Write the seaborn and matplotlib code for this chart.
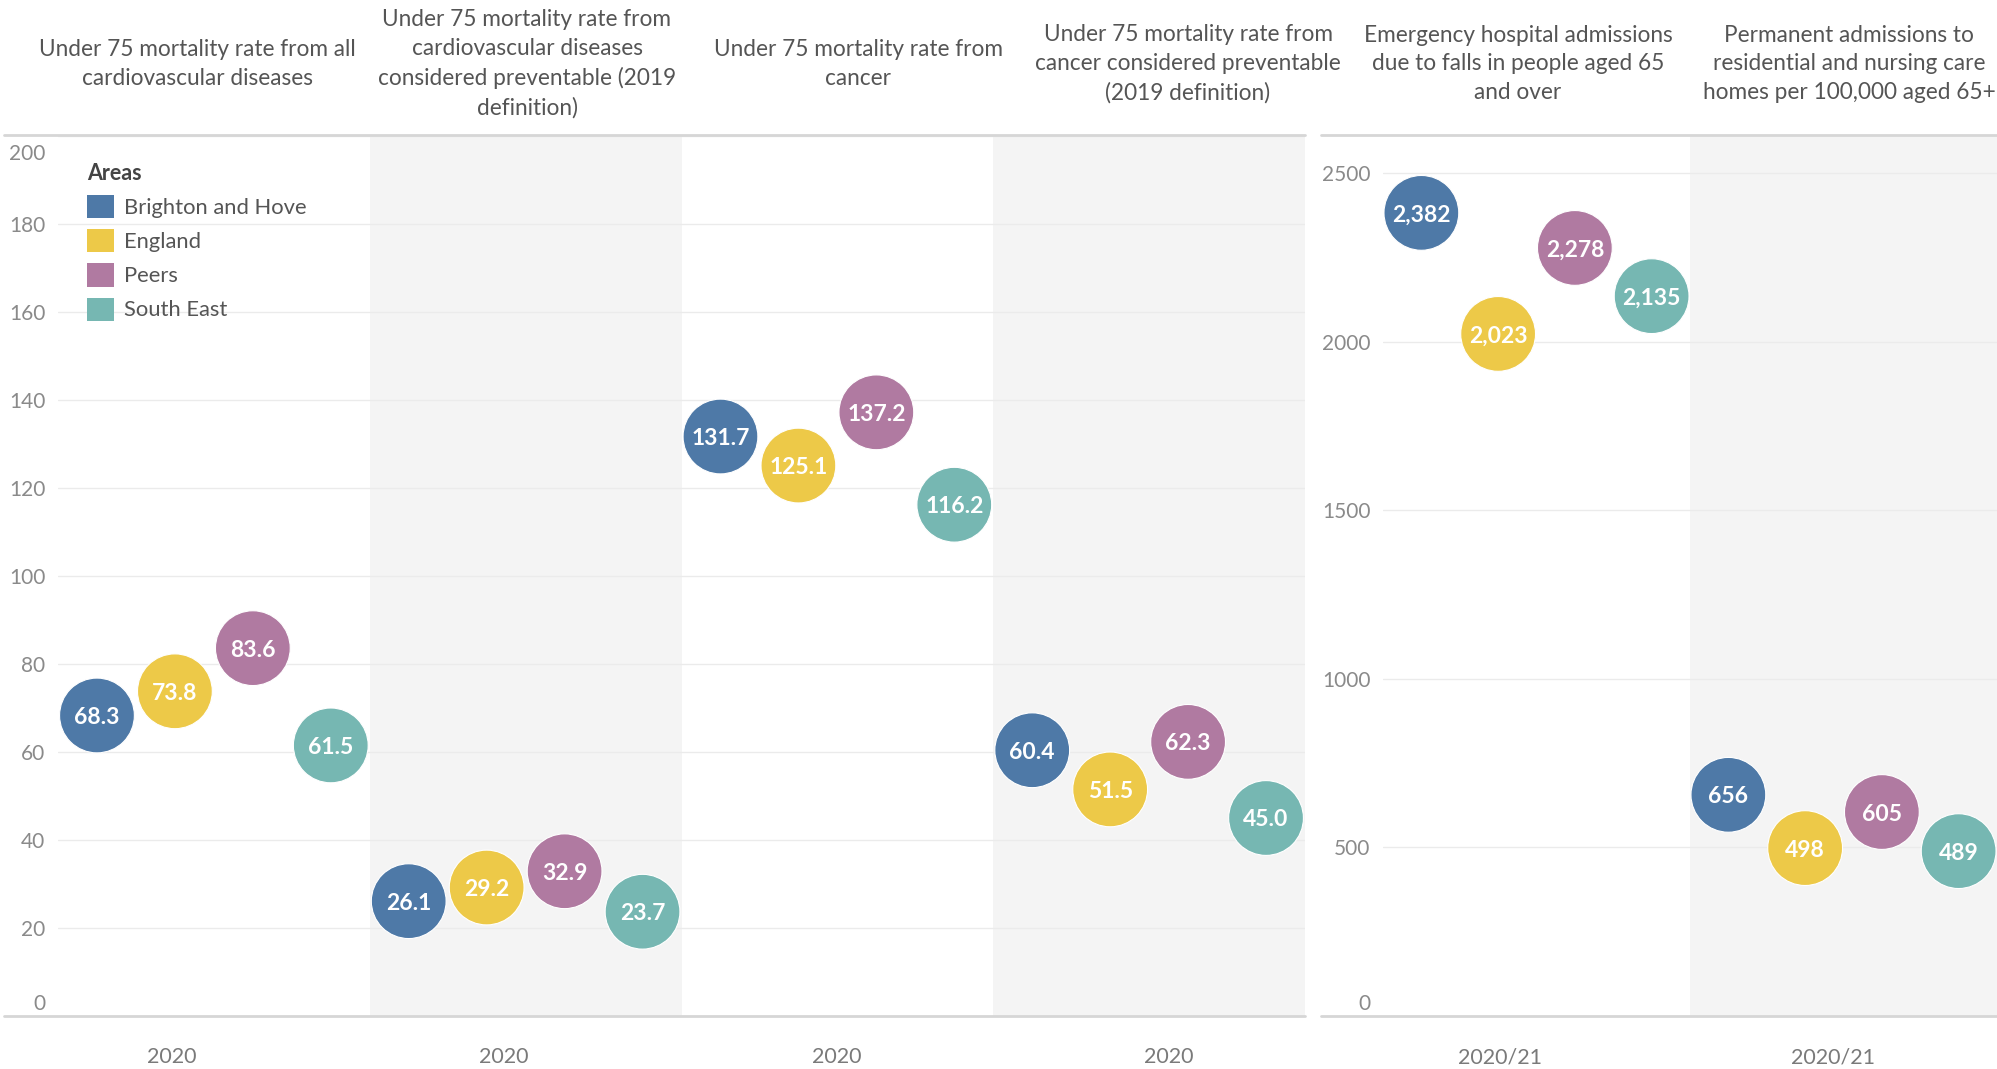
import matplotlib
matplotlib.use("Agg")
import matplotlib.pyplot as plt
import seaborn as sns
import pandas as pd
from matplotlib.lines import Line2D
from matplotlib.patches import Patch
from matplotlib.transforms import ScaledTranslation

# ---- data -------------------------------------------------------------
areas = ["Brighton and Hove", "England", "Peers", "South East"]
area_colors = ["#4e79a7", "#edc948", "#b07aa1", "#76b7b2"]

rate_titles = [
    "Under 75 mortality rate from all\ncardiovascular diseases",
    "Under 75 mortality rate from\ncardiovascular diseases\nconsidered preventable (2019\ndefinition)",
    "Under 75 mortality rate from\ncancer",
    "Under 75 mortality rate from\ncancer considered preventable\n(2019 definition)",
]
rate_periods = ["2020", "2020", "2020", "2020"]
rate_all_cvd = [68.3, 73.8, 83.6, 61.5]
rate_prev_cvd = [26.1, 29.2, 32.9, 23.7]
rate_cancer = [131.7, 125.1, 137.2, 116.2]
rate_prev_cancer = [60.4, 51.5, 62.3, 45.0]
rate_ticks = [0, 20, 40, 60, 80, 100, 120, 140, 160, 180, 200]

adult_titles = [
    "Emergency hospital admissions\ndue to falls in people aged 65\nand over",
    "Permanent admissions to\nresidential and nursing care\nhomes per 100,000 aged 65+",
]
adult_periods = ["2020/21", "2020/21"]
falls_admissions = [2382, 2023, 2278, 2135]
care_home_admissions = [656, 498, 605, 489]
adult_ticks = [0, 500, 1000, 1500, 2000, 2500]

# ---- style ------------------------------------------------------------
sns.set_theme(style="white")
plt.rcParams["font.family"] = ["Lato", "DejaVu Sans"]

W, H, DPI = 1997, 1069, 100
fig = plt.figure(figsize=(W / DPI, H / DPI), dpi=DPI)
fig.patch.set_facecolor("white")

TOP, BOTTOM = 136, 1016
SHADE = "#f4f4f4"
GRID = "#ebebeb"
RULE = "#d6d6d6"


def px_axes(x0, x1):
    return fig.add_axes([x0 / W, (H - BOTTOM) / H, (x1 - x0) / W, (BOTTOM - TOP) / H])


def nudge(text, dy_px):
    text.set_transform(text.get_transform()
                       + ScaledTranslation(0, dy_px / DPI, fig.dpi_scale_trans))


def draw_group(ax, titles, series, ymax, ticks, fmt):
    rows = []
    for i, (title, vals) in enumerate(zip(titles, series)):
        for j, (area, v) in enumerate(zip(areas, vals)):
            rows.append({"measure": title, "area": area, "value": v, "pos": i * 4 + j + 0.5})
    df = pd.DataFrame(rows)

    n = len(titles)
    for i in range(n):
        if i % 2 == 1:
            ax.axvspan(i * 4, i * 4 + 4, color=SHADE, lw=0, zorder=0)

    sns.scatterplot(data=df, x="pos", y="value", hue="area", hue_order=areas,
                    palette=area_colors, s=2900, edgecolor="white", linewidth=0.8,
                    alpha=1, legend=False, ax=ax, zorder=3, clip_on=False)
    for r in df.itertuples():
        ax.text(r.pos, r.value, fmt(r.value), ha="center", va="center_baseline",
                color="white", fontsize=16.5, fontweight="bold", zorder=4)

    ax.set_xlim(0, n * 4)
    ax.set_ylim(0, ymax)
    ax.set_xticks([])
    ax.set_yticks(ticks)
    ax.set_yticklabels([f"{t}" for t in ticks])
    ax.grid(axis="y", color=GRID, lw=1)
    ax.set_axisbelow(True)
    ax.set_facecolor("white")
    for sp in ax.spines.values():
        sp.set_visible(False)
    ax.set_xlabel("")
    ax.set_ylabel("")
    ax.tick_params(axis="y", length=0, pad=9, labelcolor="#8a8a8a", labelsize=15)
    labels = ax.get_yticklabels()
    nudge(labels[0], 14)
    if ticks[-1] == ymax:
        nudge(labels[-1], -16)


ax_rate = px_axes(58, 1305)
draw_group(ax_rate, rate_titles,
           [rate_all_cvd, rate_prev_cvd, rate_cancer, rate_prev_cancer],
           200, rate_ticks, lambda v: f"{v:.1f}")

ax_adult = px_axes(1383, 1997)
draw_group(ax_adult, adult_titles,
           [falls_admissions, care_home_admissions],
           2610, adult_ticks, lambda v: f"{v:,.0f}")

# header and baseline rules for each panel group
for x0, x1 in [(4, 1305), (1321, 1997)]:
    for y in (TOP - 1, BOTTOM):
        fig.add_artist(Line2D([x0 / W, x1 / W], [1 - y / H, 1 - y / H],
                              transform=fig.transFigure, color=RULE, lw=2, zorder=5))

# column headers
title_x = [197, 527, 858, 1188, 1518, 1849]
for x, t in zip(title_x, rate_titles + adult_titles):
    fig.text(x / W, 1 - 64 / H, t, ha="center", va="center", fontsize=16.3,
             color="#555555", linespacing=1.45)

# period labels under each column
period_x = [172, 504, 837, 1169, 1500, 1833]
for x, p in zip(period_x, rate_periods + adult_periods):
    fig.text(x / W, 1 - 1057 / H, p, ha="center", va="center", fontsize=15.5,
             color="#7a7a7a")

# legend
handles = [Patch(facecolor=c, edgecolor="none", label=a) for a, c in zip(areas, area_colors)]
leg = ax_rate.legend(handles=handles, title="Areas", loc="upper left",
                     bbox_to_anchor=(87 / W, 1 - 163 / H), bbox_transform=fig.transFigure,
                     frameon=False, alignment="left", borderpad=0, borderaxespad=0,
                     handlelength=1.25, handleheight=1.25, handletextpad=0.45,
                     labelspacing=0.5, fontsize=15.8, labelcolor="#555555",
                     title_fontproperties={"weight": "bold", "size": 15.5})
leg.get_title().set_color("#444444")

fig.savefig("out.png", dpi=DPI, facecolor="white")
